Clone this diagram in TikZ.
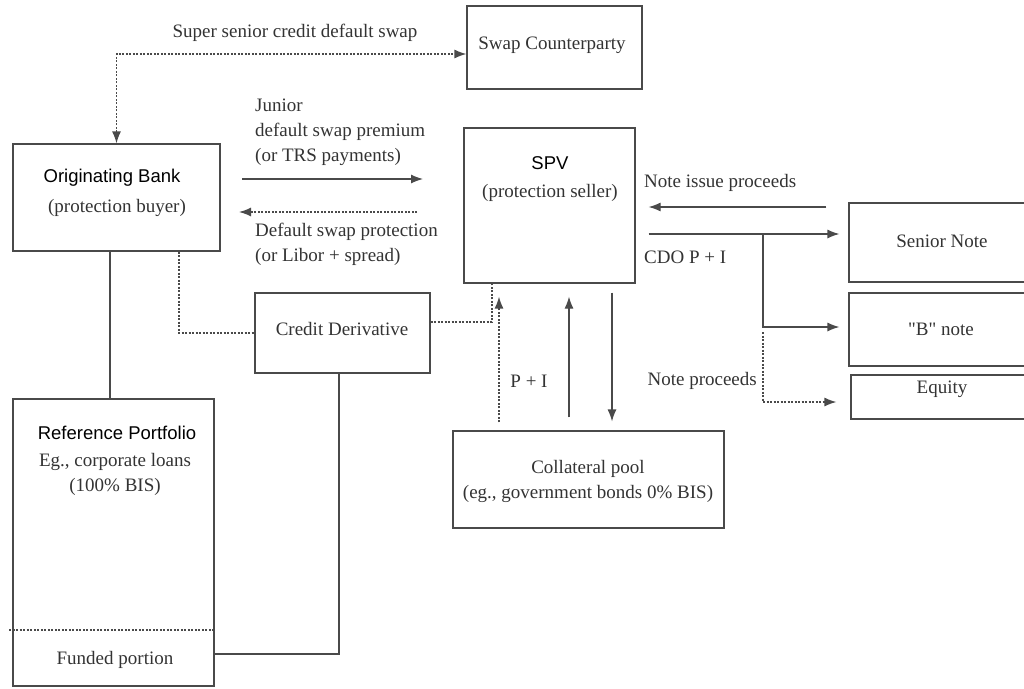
\documentclass[tikz,border=0pt]{standalone}
\usepackage{fontspec}
\setmainfont{Liberation Serif}
\setsansfont{Liberation Sans}
\usepackage{xcolor}
\usepackage{tikz}
\usetikzlibrary{positioning,calc,arrows.meta}
\definecolor{lineclr}{HTML}{4A4A4A}
\definecolor{txtclr}{HTML}{333333}

\tikzset{
  box/.style={draw=lineclr, line width=1.2pt, rectangle, inner sep=0pt},
  line/.style={draw=lineclr, line width=1.2pt},
  dotline/.style={draw=lineclr, line width=1.3pt, dash pattern=on 2pt off 1.5pt},
  headend/.style={-{Latex[length=12pt,width=9pt]}},
  headboth/.style={{Latex[length=12pt,width=9pt]}-{Latex[length=12pt,width=9pt]}},
  serif/.style={text=txtclr, inner sep=0pt, font=\fontsize{19}{25}\selectfont},
  sanslbl/.style={text=black, inner sep=0pt, font=\sffamily\fontsize{18.5}{22}\selectfont}
}

\begin{document}
\begin{tikzpicture}[x=1pt, y=-1pt]
\useasboundingbox (0,0) rectangle (1024,688);
\clip (0,0) rectangle (1024,688);

% boxes
\node[box, minimum width=207pt, minimum height=107pt] (bank) at (116.5,197.5) {};
\node[box, minimum width=175pt, minimum height=83pt] (swapcp) at (554.5,47.5) {};
\node[box, minimum width=171pt, minimum height=155pt] (spv) at (549.5,205.5) {};
\node[box, minimum width=175pt, minimum height=80pt] (cd) at (342.5,333) {};
\node[box, minimum width=271pt, minimum height=97pt] (pool) at (588.5,479.5) {};
\node[box, minimum width=201pt, minimum height=287pt] (refport) at (113.5,542.5) {};
\node[box, minimum width=186pt, minimum height=79pt] (senior) at (942,242.5) {};
\node[box, minimum width=186pt, minimum height=73pt] (bnote) at (942,329.5) {};
\node[box, minimum width=184pt, minimum height=44pt] (equity) at (943,397) {};

% box texts
\node[serif] (swapcptxt) at (552,45) {Swap Counterparty};
\node[sanslbl] (banktxt) at (112,178) {Originating Bank};
\node[serif] (banksub) at (117,208) {(protection buyer)};
\node[sanslbl] (spvtxt) at (550,163) {SPV};
\node[serif] (spvsub) at (550,193) {(protection seller)};
\node[serif] (cdtxt) at (342,329) {Credit Derivative};
\node[serif] (pooltxt) at (588,469) {Collateral pool};
\node[serif] (poolsub) at (588,494) {(eg., government bonds 0\% BIS)};
\node[sanslbl] (reftxt) at (117,433) {Reference Portfolio};
\node[serif] (refsub) at (115,462) {Eg., corporate loans};
\node[serif] (refsub2) at (115,487) {(100\% BIS)};
\node[serif] (fundtxt) at (115,660) {Funded portion};
\node[serif] (seniortxt) at (942,241) {Senior Note};
\node[serif] (bnotetxt) at (941,329) {\textquotedbl B\textquotedbl{} note};
\node[serif] (equitytxt) at (942,389) {Equity};

% flow labels
\node[serif] (superlbl) at (295,33) {Super senior credit default swap};
\node[serif, anchor=west, align=left] (premlbl) at (255,132) {Junior\\default swap premium\\(or TRS payments)};
\node[serif, anchor=west, align=left] (protlbl) at (255,244) {Default swap protection\\(or Libor + spread)};
\node[serif, anchor=west] (issuelbl) at (644,183) {Note issue proceeds};
\node[serif, anchor=west] (cdolbl) at (644,257) {CDO P + I};
\node[serif] (pilbl) at (529,381) {P + I};
\node[serif, anchor=east] (proclbl) at (757,381) {Note proceeds};

% free ends
\coordinate (premA) at (242,179);
\coordinate (premB) at (423,179);
\coordinate (protA) at (417,212);
\coordinate (protB) at (239,212);
\coordinate (split) at (763,234);
\coordinate (splitB) at (763,332);

% connectors
\draw[dotline, headboth] (bank.north) |- ([yshift=-6.5pt]swapcp.west);
\draw[line, headend] (premA) -- (premB);
\draw[dotline, headend] (protA) -- (protB);
\draw[line] ([xshift=-6.5pt]bank.south) -- ([xshift=-3.5pt]refport.north);
\draw[dotline] ([xshift=62.5pt]bank.south) |- (cd.west);
\draw[dotline] ([yshift=11pt]cd.east) -| ([xshift=-57.5pt]spv.south);
\draw[line] ([xshift=-3.5pt]cd.south) |- ([yshift=-111.5pt]refport.east);
\draw[dotline] ([shift={(-3pt,-87.5pt)}]refport.west) -- ([yshift=-87.5pt]refport.east);
\draw[dotline, headend] ([shift={(-89.5pt,8pt)}]pool.north) -- ([shift={(-50.5pt,-13pt)}]spv.south);
\draw[line, headend] ([shift={(-19.5pt,13pt)}]pool.north) -- ([shift={(19.5pt,-13pt)}]spv.south);
\draw[line, headend] ([shift={(62.5pt,-9pt)}]spv.south) -- ([shift={(23.5pt,9pt)}]pool.north);
\draw[line, headend] ([shift={(-22pt,35.5pt)}]senior.west) -- ([shift={(13pt,-1.5pt)}]spv.east);
\draw[line, headend] ([shift={(13pt,-28.5pt)}]spv.east) -- ([shift={(-9pt,8.5pt)}]senior.west);
\draw[line, headend] (split) |- ([shift={(-9pt,2.5pt)}]bnote.west);
\draw[dotline, headend] (splitB) |- ([shift={(-14pt,-5pt)}]equity.west);
\end{tikzpicture}
\end{document}
